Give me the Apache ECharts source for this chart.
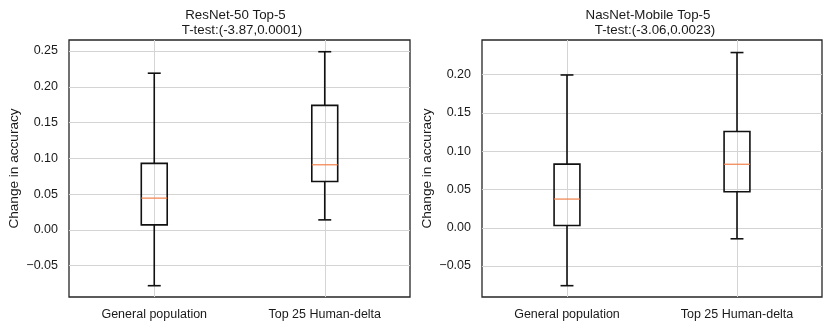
<!DOCTYPE html>
<html>
<head>
<meta charset="utf-8">
<script src="https://cdn.jsdelivr.net/npm/echarts@6/dist/echarts.min.js"></script>
<style>
  html, body { margin: 0; padding: 0; background: #fff; }
  #main { width: 831px; height: 329px; }
</style>
</head>
<body>
<div id="main"></div>
<script>
// categories shared by both panels
var categories = ['General population', 'Top 25 Human-delta'];

// box stats: [min, q1, median, q3, max]
var resnetGeneral = [-0.078, 0.007, 0.0444, 0.0929, 0.219];
var resnetTop25 = [0.014, 0.0677, 0.091, 0.174, 0.249];
var nasnetGeneral = [-0.0757, 0.003, 0.0375, 0.0832, 0.1997];
var nasnetTop25 = [-0.0144, 0.047, 0.083, 0.1258, 0.229];

// y tick labels
var resnetTicks = [-0.05, 0, 0.05, 0.10, 0.15, 0.20, 0.25];
var nasnetTicks = [-0.05, 0, 0.05, 0.10, 0.15, 0.20];

var FONT = 'Liberation Sans, Arial, sans-serif';
var TEXT = '#1a1a1a';

var chart = echarts.init(document.getElementById('main'));

function fmt(v) {
  return v.toFixed(2).replace('-', '\u2212');
}

// draws whiskers, caps, box and an orange median line
function renderBox(params, api) {
  var x = api.value(0);
  var pLo = api.coord([x, api.value(1)]);
  var pQ1 = api.coord([x, api.value(2)]);
  var pMed = api.coord([x, api.value(3)]);
  var pQ3 = api.coord([x, api.value(4)]);
  var pHi = api.coord([x, api.value(5)]);
  var band = api.size([1, 0])[0];
  var hw = band * 0.076;
  var hc = band * 0.038;
  var cx = pQ1[0];
  var black = { stroke: '#111', lineWidth: 1.6, fill: null };
  return {
    type: 'group',
    children: [
      { type: 'line', shape: { x1: cx, y1: pLo[1], x2: cx, y2: pQ1[1] }, style: black },
      { type: 'line', shape: { x1: cx, y1: pQ3[1], x2: cx, y2: pHi[1] }, style: black },
      { type: 'line', shape: { x1: cx - hc, y1: pLo[1], x2: cx + hc, y2: pLo[1] }, style: black },
      { type: 'line', shape: { x1: cx - hc, y1: pHi[1], x2: cx + hc, y2: pHi[1] }, style: black },
      { type: 'rect', shape: { x: cx - hw, y: pQ3[1], width: hw * 2, height: pQ1[1] - pQ3[1] },
        style: { stroke: '#111', lineWidth: 1.6, fill: 'rgba(0,0,0,0)' } },
      { type: 'line', shape: { x1: cx - hw, y1: pMed[1], x2: cx + hw, y2: pMed[1] },
        style: { stroke: '#f2804a', lineWidth: 1.2 } }
    ]
  };
}

// value axis from -0.5 to 1.5 so the grid lines sit on the box centres
function makeX(idx) {
  return {
    type: 'value',
    gridIndex: idx,
    min: -0.5,
    max: 1.5,
    axisLine: { show: false },
    axisTick: { show: false, customValues: [0, 1] },
    axisLabel: { color: TEXT, fontFamily: FONT, fontSize: 12.5, margin: 11,
      customValues: [0, 1], formatter: function (v) { return categories[Math.round(v)]; } },
    splitLine: { show: true, lineStyle: { color: '#d4d4d4', width: 1 } }
  };
}

function makeY(idx, min, max, ticks) {
  return {
    type: 'value',
    gridIndex: idx,
    min: min,
    max: max,
    name: 'Change in accuracy',
    nameLocation: 'middle',
    nameGap: 48,
    nameTextStyle: { color: TEXT, fontFamily: FONT, fontSize: 13.6 },
    axisLine: { show: false },
    axisTick: { show: false, customValues: ticks },
    axisLabel: { color: TEXT, fontFamily: FONT, fontSize: 12.5, margin: 11,
      customValues: ticks, formatter: fmt },
    splitLine: { show: true, lineStyle: { color: '#d4d4d4', width: 1 } }
  };
}

function titleText(x, y, text) {
  return {
    type: 'text', x: x, y: y,
    style: { text: text, font: '13.3px ' + FONT, fill: TEXT,
      textAlign: 'center', textVerticalAlign: 'middle' }
  };
}

var option = {
  animation: false,
  grid: [
    { left: 69, right: 421, top: 40, bottom: 32, show: true,
      borderColor: '#262626', borderWidth: 1.3, backgroundColor: 'transparent' },
    { left: 482, right: 9, top: 40, bottom: 32, show: true,
      borderColor: '#262626', borderWidth: 1.3, backgroundColor: 'transparent' }
  ],
  xAxis: [makeX(0), makeX(1)],
  yAxis: [
    makeY(0, -0.0938, 0.2654, resnetTicks),
    makeY(1, -0.0905, 0.2454, nasnetTicks)
  ],
  graphic: [
    titleText(235.5, 15, 'ResNet-50 Top-5'),
    titleText(242, 30, 'T-test:(-3.87,0.0001)'),
    titleText(648, 15, 'NasNet-Mobile Top-5'),
    titleText(655, 30, 'T-test:(-3.06,0.0023)')
  ],
  series: [
    {
      type: 'custom', xAxisIndex: 0, yAxisIndex: 0,
      renderItem: renderBox,
      encode: { x: 0, y: [1, 2, 3, 4, 5] },
      data: [[0].concat(resnetGeneral), [1].concat(resnetTop25)]
    },
    {
      type: 'custom', xAxisIndex: 1, yAxisIndex: 1,
      renderItem: renderBox,
      encode: { x: 0, y: [1, 2, 3, 4, 5] },
      data: [[0].concat(nasnetGeneral), [1].concat(nasnetTop25)]
    }
  ]
};

chart.setOption(option);
</script>
</body>
</html>
